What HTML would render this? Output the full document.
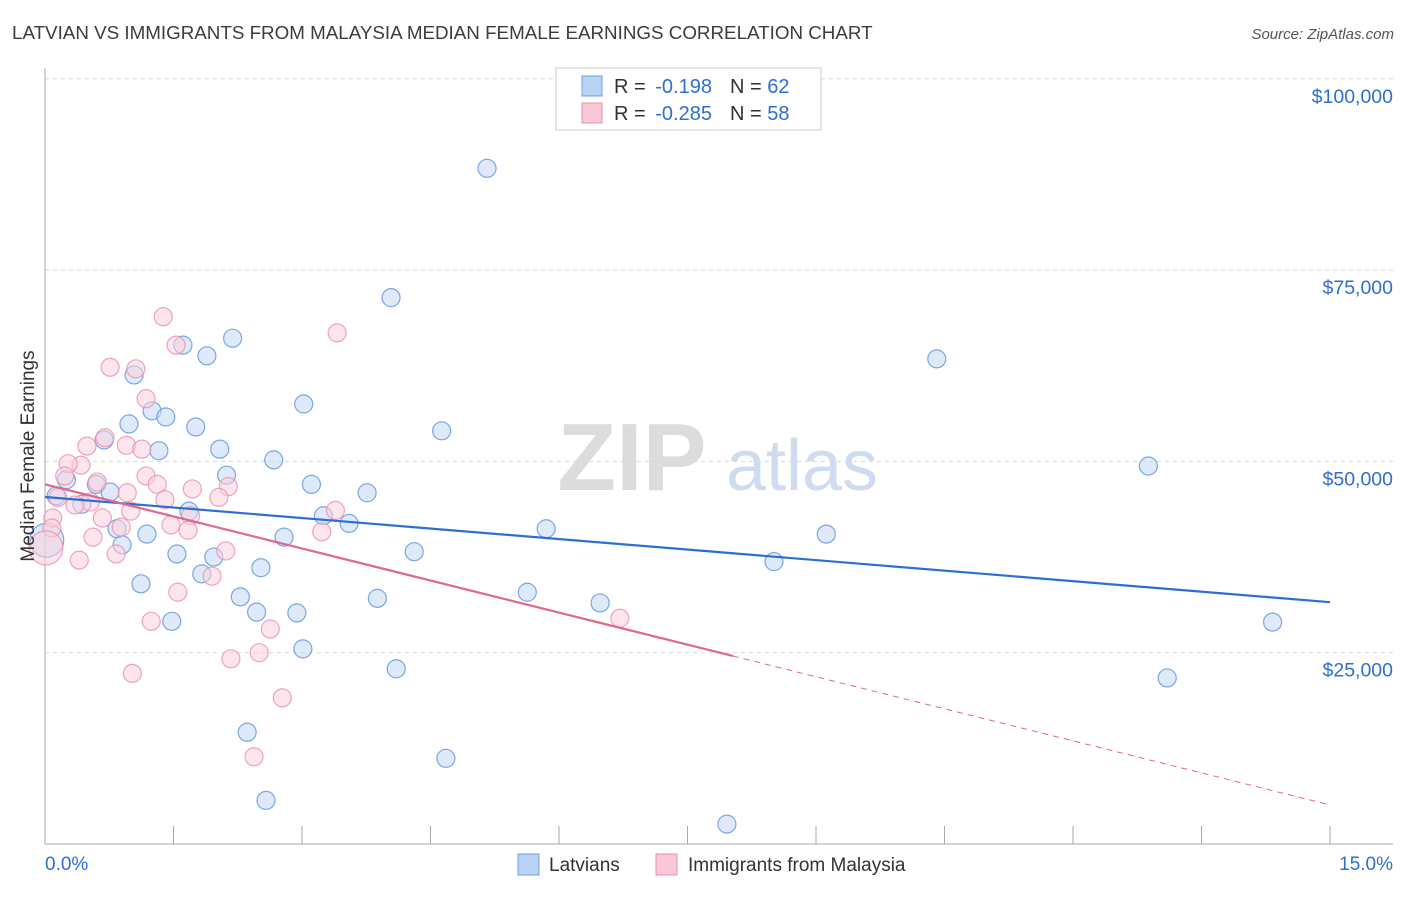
<!DOCTYPE html>
<html><head><meta charset="utf-8">
<style>
body{margin:0;background:#fff;font-family:"Liberation Sans",sans-serif;}
svg text{font-family:"Liberation Sans",sans-serif;}
</style></head>
<body>
<svg id="chart" width="1406" height="892" xmlns="http://www.w3.org/2000/svg">
<text x="12" y="39" font-size="18.8" fill="#3c3c3c">LATVIAN VS IMMIGRANTS FROM MALAYSIA MEDIAN FEMALE EARNINGS CORRELATION CHART</text>
<text x="1394" y="39" font-size="15" fill="#555" text-anchor="end" font-style="italic">Source: ZipAtlas.com</text>
<g>
<text x="632" y="490" font-size="96" fill="#dcdcdc" text-anchor="middle" font-family="Liberation Serif" font-weight="bold">ZIP</text>
<text x="802" y="490" font-size="72" fill="#cfdcef" text-anchor="middle">atlas</text>
</g>
<g id="grid"></g>
<g id="axes"></g>
<g id="pts"></g>
<g id="trends"></g>
<g>
<rect x="556" y="68" width="265" height="62" fill="#fff" stroke="#ccc"/>
<rect x="582" y="76" width="20" height="20" fill="#b9d3f3" stroke="#6d9fe0"/>
<text x="614" y="93" font-size="20" fill="#333">R = <tspan dx="4" fill="#2d6fd2">-0.198</tspan><tspan dx="18">N = </tspan><tspan fill="#2d6fd2">62</tspan></text>
<rect x="582" y="103" width="20" height="20" fill="#f8c8d6" stroke="#e990ab"/>
<text x="614" y="120" font-size="20" fill="#333">R = <tspan dx="4" fill="#2d6fd2">-0.285</tspan><tspan dx="18">N = </tspan><tspan fill="#2d6fd2">58</tspan></text>
</g>
<g>
<rect x="518" y="854" width="21" height="21" fill="#b9d3f3" stroke="#6d9fe0"/>
<text x="549" y="871" font-size="19" fill="#333">Latvians</text>
<rect x="656" y="854" width="21" height="21" fill="#f8c8d6" stroke="#e990ab"/>
<text x="688" y="871" font-size="19" fill="#333">Immigrants from Malaysia</text>
</g>
<text transform="translate(34,456) rotate(-90)" font-size="19" fill="#333" text-anchor="middle">Median Female Earnings</text>
</svg>
<script>
const xTicks=[0,1.5,3,4.5,6,7.5,9,10.5,12,13.5,15];
const yTicks=[25000,50000,75000,100000];
const yTickLabels=["$25,000","$50,000","$75,000","$100,000"];
const latX=[5.16,4.04,2.19,1.61,1.89,10.41,1.04,1.25,1.41,3.02,0.98,1.76,4.63,0.69,1.33,2.04,2.67,12.88,2.12,3.11,3.76,0.25,0.60,0.76,0.13,0.43,1.68,3.25,3.55,5.85,9.12,0.84,1.19,2.79,0.90,0.02,4.31,1.54,1.97,8.51,2.52,1.83,1.12,5.63,3.88,2.28,6.48,2.47,2.94,1.48,14.33,3.01,4.10,13.10,2.36,4.68,2.58,7.96];
const latY=[88.3,71.4,66.1,65.2,63.8,63.4,61.3,56.6,55.8,57.5,54.9,54.5,54.0,52.8,51.4,51.6,50.2,49.4,48.2,47.0,45.9,47.6,47.0,46.0,45.5,44.4,43.5,42.9,41.9,41.2,40.5,41.2,40.5,40.1,39.1,39.7,38.2,37.9,37.5,36.9,36.1,35.3,34.0,32.9,32.1,32.3,31.5,30.3,30.2,29.1,29.0,25.5,22.9,21.7,14.6,11.2,5.7,2.6];
const malX=[1.38,3.41,1.53,0.76,1.06,1.18,0.70,0.95,0.49,1.13,0.42,0.27,0.23,1.18,1.31,0.61,2.14,1.72,0.96,2.03,0.15,1.40,0.53,0.35,3.39,1.00,0.67,1.70,0.09,1.47,0.89,1.67,3.23,0.56,0.08,0.01,2.11,0.83,0.40,1.95,1.55,6.71,1.24,2.63,2.50,2.17,1.02,2.77,2.44];
const malY=[68.9,66.8,65.2,62.3,62.1,58.2,53.1,52.1,52.0,51.6,49.5,49.7,48.1,48.1,47.0,47.3,46.7,46.4,45.9,45.3,45.3,45.0,44.7,44.3,43.6,43.5,42.6,42.9,42.6,41.7,41.4,41.0,40.8,40.1,41.3,38.7,38.3,37.9,37.1,35.0,32.9,29.5,29.1,28.1,25.0,24.2,22.3,19.1,11.4];
const latTrend=[45.35,31.6];
const malTrend=[47.0,5.1];
const malSolidEnd=8.03;
const ns="http://www.w3.org/2000/svg";
const X=v=>45+v/15*1285, Y=v=>844-v/25*191.3;
function mk(t,a,p){const e=document.createElementNS(ns,t);for(const k in a)e.setAttribute(k,a[k]);document.getElementById(p).appendChild(e);return e;}
yTicks.forEach((t,i)=>{
 const g=mk('line',{x1:45,x2:1393,y1:Y(t/1000),y2:Y(t/1000),stroke:'#d8d8d8','stroke-dasharray':'4,4'},'grid');
 
 
 const l=mk('text',{x:1393,y:Y(t/1000)+24,'font-size':19.5,fill:'#2d6fd2','text-anchor':'end'},'axes');
 l.textContent=yTickLabels[i];
 
 
});
mk('line',{x1:45,x2:45,y1:68,y2:844,stroke:'#aaa'},'axes');
mk('line',{x1:45,x2:1393,y1:844,y2:844,stroke:'#aaa'},'axes');
xTicks.forEach(t=>{const e=mk('line',{x1:X(t),x2:X(t),y1:826,y2:844,stroke:'#aaa'},'axes');
 
 });
let a=mk('text',{x:45,y:870,'font-size':19,fill:'#2d6fd2'},'axes');a.textContent='0.0%';

a=mk('text',{x:1393,y:870,'font-size':19,fill:'#2d6fd2','text-anchor':'end'},'axes');a.textContent='15.0%';

function pts(xs,ys,fill,stroke,name){xs.forEach((x,i)=>{const r=(x<0.05)?17:9;
 const c=mk('circle',{cx:X(x),cy:Y(ys[i]),r:r,fill:fill,'fill-opacity':0.55,stroke:stroke,'stroke-opacity':0.8,'stroke-width':1.2},'pts');
 
 });}
pts(latX,latY,'#c3d9f5','#5b93dc','latvian-point');
pts(malX,malY,'#f9cfdc','#ec8fae','malaysia-point');
let t=mk('line',{x1:X(0),y1:Y(latTrend[0]),x2:X(15),y2:Y(latTrend[1]),stroke:'#2c6fd4','stroke-width':2.2},'trends');


const my=malTrend[0]+(malTrend[1]-malTrend[0])*malSolidEnd/15;
t=mk('line',{x1:X(0),y1:Y(malTrend[0]),x2:X(malSolidEnd),y2:Y(my),stroke:'#e2678f','stroke-width':2.2},'trends');


t=mk('line',{x1:X(malSolidEnd),y1:Y(my),x2:X(15),y2:Y(malTrend[1]),stroke:'#e2678f','stroke-width':1,'stroke-dasharray':'6,5'},'trends');


</script>
</body></html>
